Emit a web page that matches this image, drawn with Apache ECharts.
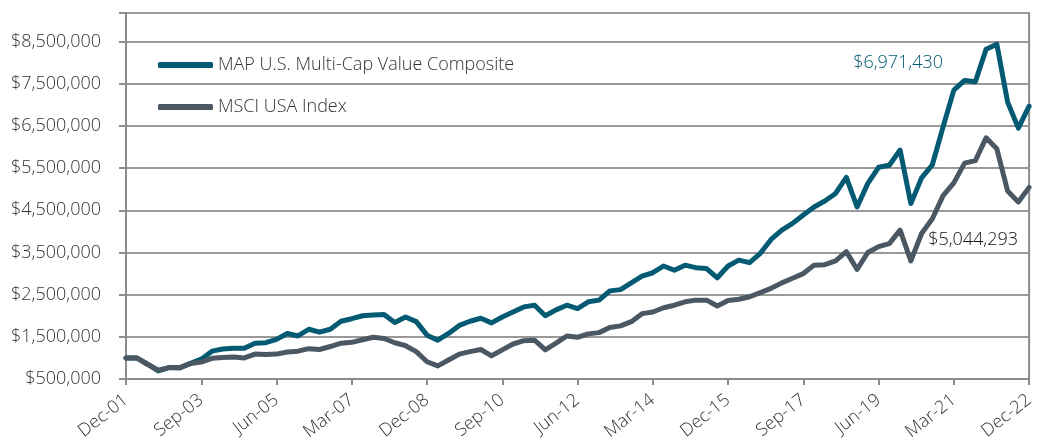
<!DOCTYPE html>
<html>
<head>
<meta charset="utf-8">
<script src="https://cdn.jsdelivr.net/npm/echarts@6/dist/echarts.min.js"></script>
<style>
  html, body { margin: 0; padding: 0; background: #fff; }
  #chart { width: 1037px; height: 444px; }
</style>
</head>
<body>
<div id="chart"></div>
<script>
const quarters = [
  'Dec-01',
  'Mar-02', 'Jun-02', 'Sep-02', 'Dec-02',
  'Mar-03', 'Jun-03', 'Sep-03', 'Dec-03',
  'Mar-04', 'Jun-04', 'Sep-04', 'Dec-04',
  'Mar-05', 'Jun-05', 'Sep-05', 'Dec-05',
  'Mar-06', 'Jun-06', 'Sep-06', 'Dec-06',
  'Mar-07', 'Jun-07', 'Sep-07', 'Dec-07',
  'Mar-08', 'Jun-08', 'Sep-08', 'Dec-08',
  'Mar-09', 'Jun-09', 'Sep-09', 'Dec-09',
  'Mar-10', 'Jun-10', 'Sep-10', 'Dec-10',
  'Mar-11', 'Jun-11', 'Sep-11', 'Dec-11',
  'Mar-12', 'Jun-12', 'Sep-12', 'Dec-12',
  'Mar-13', 'Jun-13', 'Sep-13', 'Dec-13',
  'Mar-14', 'Jun-14', 'Sep-14', 'Dec-14',
  'Mar-15', 'Jun-15', 'Sep-15', 'Dec-15',
  'Mar-16', 'Jun-16', 'Sep-16', 'Dec-16',
  'Mar-17', 'Jun-17', 'Sep-17', 'Dec-17',
  'Mar-18', 'Jun-18', 'Sep-18', 'Dec-18',
  'Mar-19', 'Jun-19', 'Sep-19', 'Dec-19',
  'Mar-20', 'Jun-20', 'Sep-20', 'Dec-20',
  'Mar-21', 'Jun-21', 'Sep-21', 'Dec-21',
  'Mar-22', 'Jun-22', 'Sep-22', 'Dec-22'
];

// growth of $1,000,000
const mapComposite = [
  1000000, 1000000, 850000, 690000, 770000, 760000, 870000, 970000, 1160000, 1210000,
  1230000, 1230000, 1350000, 1360000, 1440000, 1580000, 1520000, 1680000, 1610000, 1680000,
  1870000, 1930000, 2000000, 2020000, 2030000, 1840000, 1970000, 1860000, 1540000, 1420000,
  1580000, 1770000, 1870000, 1940000, 1830000, 1970000, 2090000, 2210000, 2250000, 2000000,
  2140000, 2250000, 2170000, 2330000, 2370000, 2590000, 2620000, 2780000, 2940000, 3020000,
  3180000, 3080000, 3200000, 3140000, 3120000, 2900000, 3180000, 3320000, 3260000, 3480000,
  3810000, 4030000, 4190000, 4390000, 4580000, 4720000, 4900000, 5280000, 4580000, 5140000,
  5520000, 5570000, 5930000, 4660000, 5270000, 5580000, 6480000, 7350000, 7580000, 7550000,
  8320000, 8440000, 7070000, 6450000, 6971430
];

const msciUsa = [
  1000000, 1000000, 850000, 710000, 770000, 770000, 870000, 900000, 990000, 1010000,
  1020000, 1000000, 1090000, 1080000, 1090000, 1140000, 1160000, 1220000, 1200000, 1270000,
  1350000, 1370000, 1430000, 1490000, 1460000, 1360000, 1290000, 1150000, 910000, 810000,
  950000, 1090000, 1150000, 1200000, 1050000, 1190000, 1330000, 1410000, 1420000, 1190000,
  1350000, 1520000, 1490000, 1570000, 1600000, 1720000, 1760000, 1860000, 2050000, 2090000,
  2190000, 2250000, 2330000, 2370000, 2370000, 2230000, 2360000, 2390000, 2450000, 2550000,
  2650000, 2780000, 2890000, 3000000, 3200000, 3210000, 3300000, 3520000, 3100000, 3500000,
  3640000, 3710000, 4030000, 3300000, 3950000, 4300000, 4850000, 5150000, 5620000, 5680000,
  6220000, 5960000, 4960000, 4700000, 5044293
];

const seriesNames = ['MAP U.S. Multi-Cap Value Composite', 'MSCI USA Index'];
const seriesColors = ['#035a72', '#4b5864'];

const money = v => '$' + v.toLocaleString('en-US');
const last = quarters.length - 1;
const font = { fontFamily: 'Open Sans', fontWeight: 300 };

const chart = echarts.init(document.getElementById('chart'));

chart.setOption({
  animation: false,
  textStyle: font,
  grid: {
    left: 126, right: 3, top: 13, bottom: 65,
    show: true, borderColor: '#8c8c8c', borderWidth: 2
  },
  legend: {
    orient: 'vertical',
    left: 158,
    top: 54,
    padding: 0,
    itemWidth: 55,
    itemHeight: 6,
    itemGap: 20,
    icon: 'roundRect',
    textStyle: Object.assign({ fontSize: 18, color: '#333', lineHeight: 22 }, font),
    data: seriesNames
  },
  xAxis: {
    type: 'category',
    data: quarters,
    boundaryGap: false,
    axisLine: { lineStyle: { color: '#8c8c8c', width: 2 } },
    axisTick: { interval: 6, length: 6, lineStyle: { color: '#8c8c8c', width: 2 } },
    axisLabel: Object.assign({ interval: 6, rotate: 38, margin: 19, fontSize: 18, color: '#333' }, font),
    splitLine: { show: false }
  },
  yAxis: {
    type: 'value',
    min: 500000,
    max: 9180000,
    interval: 1000000,
    axisLine: { show: true, lineStyle: { color: '#8c8c8c', width: 2 } },
    axisTick: { show: true, length: 7, lineStyle: { color: '#8c8c8c', width: 2 } },
    axisLabel: Object.assign({
      fontSize: 18,
      color: '#333',
      margin: 25,
      formatter: v => ((v - 500000) % 1000000 === 0 ? money(v) : '')
    }, font),
    splitLine: { lineStyle: { color: '#999', width: 2 } }
  },
  series: [
    {
      name: seriesNames[0],
      type: 'line',
      data: mapComposite,
      symbol: 'none',
      color: seriesColors[0],
      lineStyle: { width: 5, cap: 'round', join: 'round' },
      markPoint: {
        symbol: 'circle',
        symbolSize: 0,
        data: [{ coord: [last, mapComposite[last]] }],
        label: Object.assign({
          show: true,
          formatter: () => money(mapComposite[last]),
          offset: [-131, -43],
          fontSize: 18,
          color: seriesColors[0]
        }, font)
      }
    },
    {
      name: seriesNames[1],
      type: 'line',
      data: msciUsa,
      symbol: 'none',
      color: seriesColors[1],
      lineStyle: { width: 5, cap: 'round', join: 'round' },
      markPoint: {
        symbol: 'circle',
        symbolSize: 0,
        data: [{ coord: [last, msciUsa[last]] }],
        label: Object.assign({
          show: true,
          formatter: () => money(msciUsa[last]),
          offset: [-56, 52],
          fontSize: 18,
          color: '#111'
        }, font)
      }
    }
  ]
});
</script>
</body>
</html>
